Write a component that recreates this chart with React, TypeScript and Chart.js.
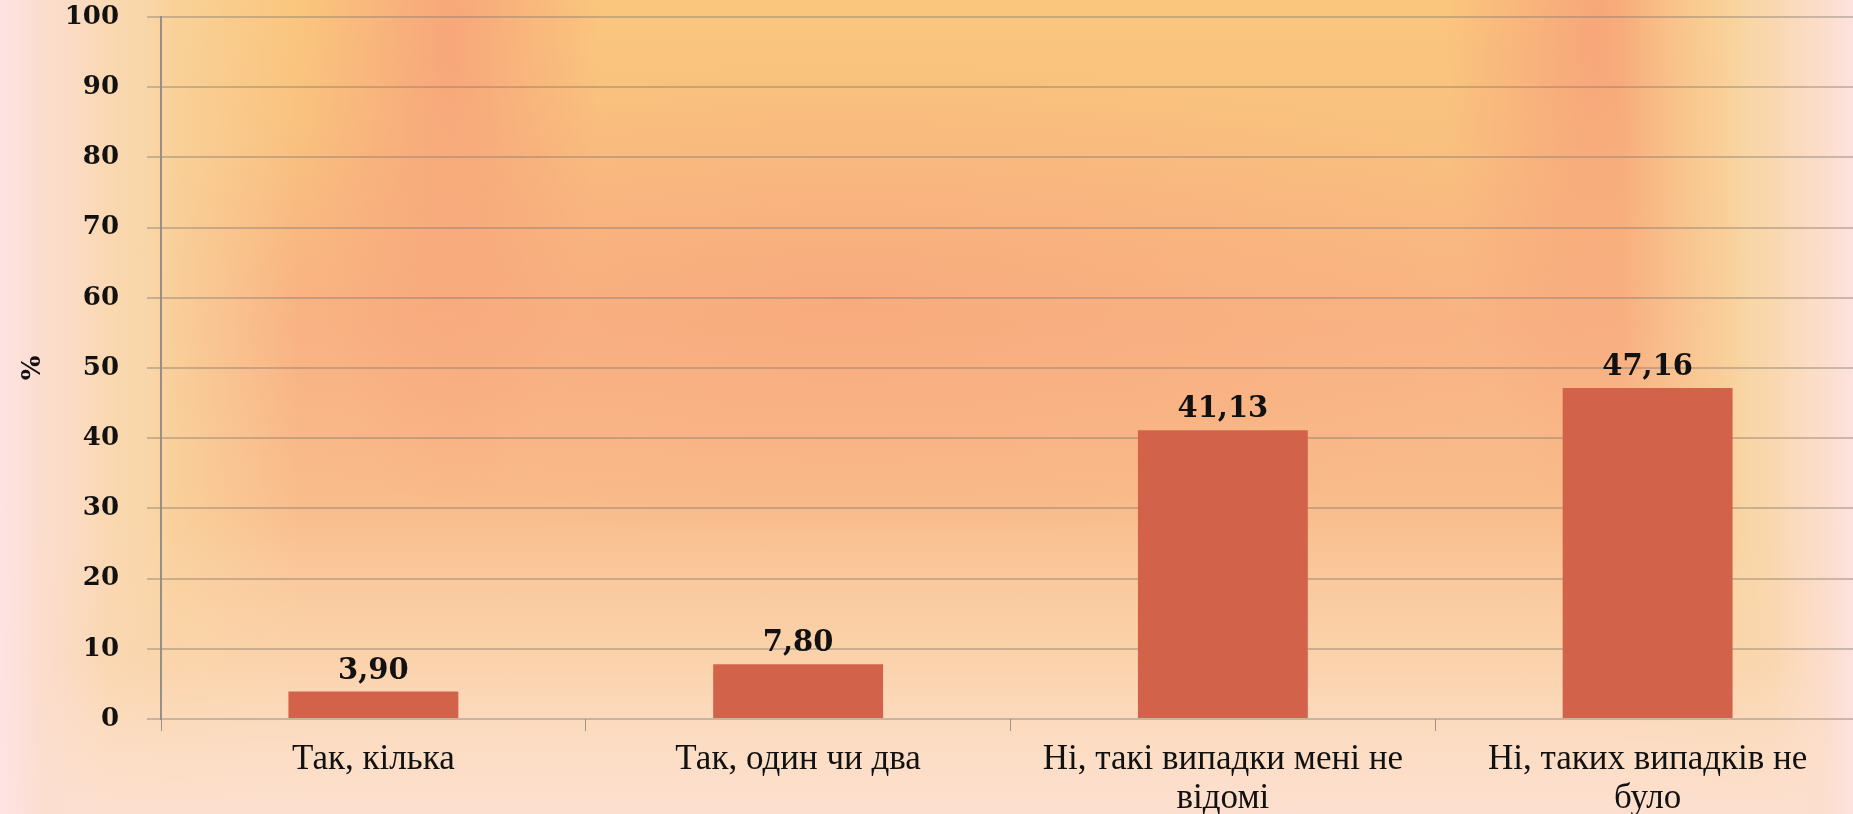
import React, { useEffect, useRef } from "react";
import { Chart, registerables } from "chart.js";

Chart.register(...registerables);

const categories: (string | string[])[] = [
  "Так, кілька",
  "Так, один чи два",
  ["Ні, такі випадки мені не", "відомі"],
  ["Ні, таких випадків не", "було"],
];
const values: number[] = [3.9, 7.8, 41.13, 47.16];
const yTicks: number[] = [0, 10, 20, 30, 40, 50, 60, 70, 80, 90, 100];
const yTitle = "%";

const CANVAS_W = 1870;
const CANVAS_H = 814;

const background = [
  "linear-gradient(to right, #fde3e4 0px, rgba(252,222,210,0.8) 40px, rgba(252,222,200,0) 110px)",
  "linear-gradient(to left, #fde2df 0px, rgba(252,222,205,0.8) 30px, rgba(252,222,200,0) 80px)",
  "linear-gradient(to top, #fcdfcf 0px, rgba(252,222,198,0.92) 60px, rgba(251,214,178,0.6) 150px, rgba(250,200,150,0) 290px)",
  "linear-gradient(to right, #fcdcc8 0px, #f9d6a8 150px, rgba(249,212,158,0.8) 175px, rgba(249,205,150,0) 300px)",
  "linear-gradient(to left, #fbdcc4 0px, #f9d6a6 105px, rgba(249,212,158,0.8) 130px, rgba(249,205,150,0) 230px)",
  "radial-gradient(ellipse 150px 480px at 450px 40px, rgba(247,163,122,0.9), rgba(247,163,122,0))",
  "radial-gradient(ellipse 150px 480px at 1595px 40px, rgba(247,163,122,0.9), rgba(247,163,122,0))",
  "radial-gradient(ellipse 800px 240px at 850px 300px, rgba(248,168,124,0.75), rgba(248,168,124,0))",
  "linear-gradient(to bottom, #fac67d 0%, #f9c07f 20%, #f9b585 40%, #f9bb8a 60%, #fbcc9f 80%, #fcdcc4 100%)",
].join(", ");

const dataLabelPlugin = {
  id: "dataLabels",
  afterDatasetsDraw(chart: any) {
    const ctx = chart.ctx;
    const meta = chart.getDatasetMeta(0);
    ctx.save();
    ctx.font = 'bold 29px "DejaVu Serif"';
    ctx.fillStyle = "#111111";
    ctx.textAlign = "center";
    ctx.textBaseline = "alphabetic";
    meta.data.forEach((bar: any, i: number) => {
      const txt = values[i].toFixed(2).replace(".", ",");
      ctx.fillText(txt, bar.x, bar.y - 13);
    });
    ctx.restore();
  },
};

export default function App() {
  const ref = useRef<HTMLCanvasElement | null>(null);

  useEffect(() => {
    if (!ref.current) return;
    const chart = new Chart(ref.current, {
      type: "bar",
      data: {
        labels: categories,
        datasets: [
          {
            data: values,
            backgroundColor: "#d2634a",
            borderWidth: 0,
            categoryPercentage: 1,
            barPercentage: 0.4,
          },
        ],
      },
      options: {
        animation: false,
        responsive: false,
        devicePixelRatio: 1,
        layout: { padding: { top: 17, left: 0, right: 10, bottom: 0 } },
        plugins: {
          legend: { display: false },
          tooltip: { enabled: false },
        },
        scales: {
          x: {
            grid: {
              offset: true,
              drawOnChartArea: false,
              drawTicks: true,
              tickLength: 12,
              color: "rgba(120,115,110,0.7)",
              lineWidth: 1,
            },
            border: { display: false },
            ticks: {
              padding: 10,
              color: "#111111",
              maxRotation: 0,
              autoSkip: false,
              font: { family: '"Liberation Serif"', size: 35, lineHeight: 1.1 },
            },
            afterFit(scale: any) {
              scale.height = CANVAS_H - 719;
              scale.paddingLeft = 0;
              scale.paddingRight = 0;
            },
          },
          y: {
            min: 0,
            max: 100,
            afterBuildTicks(scale: any) {
              scale.ticks = yTicks.map((v) => ({ value: v }));
            },
            grid: {
              color: "rgba(130,120,110,0.4)",
              lineWidth: 2,
              drawTicks: true,
              tickLength: 14,
            },
            border: { display: true, color: "rgba(140,135,130,0.9)", width: 2 },
            ticks: {
              padding: 28,
              color: "#111111",
              font: { family: '"DejaVu Serif"', size: 26, weight: "bold" },
            },
            title: {
              display: true,
              text: yTitle,
              color: "#111111",
              font: { family: '"DejaVu Serif"', size: 26, weight: "bold" },
              padding: { top: 18, bottom: 0 },
            },
            afterFit(scale: any) {
              scale.width = 161;
              scale.paddingTop = 0;
              scale.paddingBottom = 0;
            },
          },
        },
      },
      plugins: [dataLabelPlugin],
    });
    return () => chart.destroy();
  }, []);

  return (
    <div
      style={{
        position: "fixed",
        left: 0,
        top: 0,
        width: 1853,
        height: 814,
        overflow: "hidden",
        background,
      }}
    >
      <canvas
        ref={ref}
        width={CANVAS_W}
        height={CANVAS_H}
        style={{ display: "block", width: CANVAS_W, height: CANVAS_H }}
      />
    </div>
  );
}
